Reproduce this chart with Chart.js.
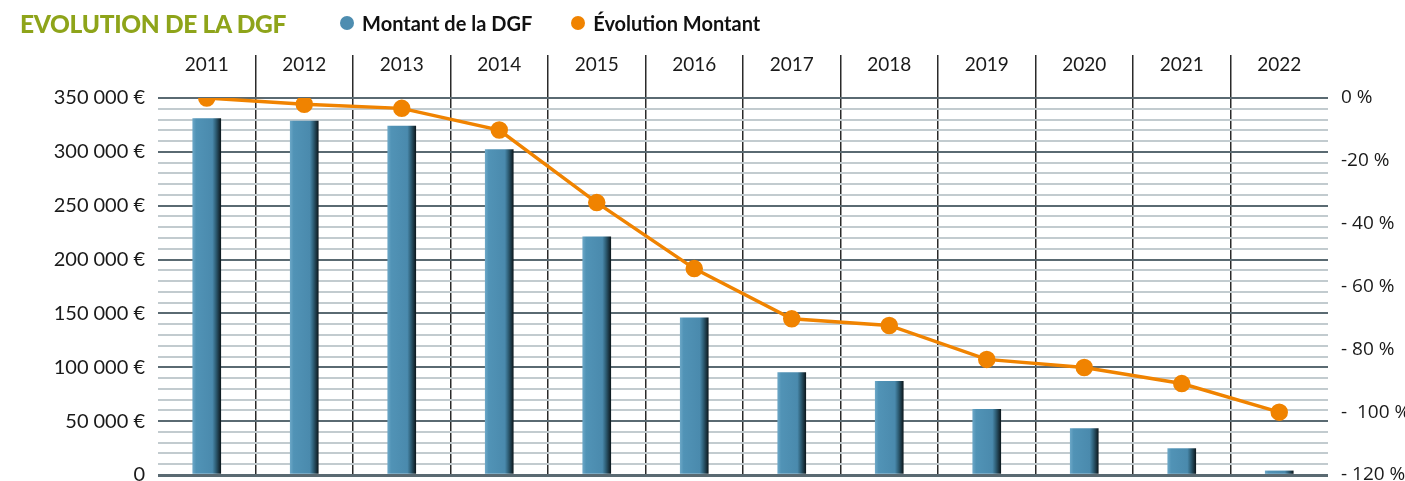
<!DOCTYPE html>
<html>
<head>
<meta charset="utf-8">
<script src="https://cdn.jsdelivr.net/npm/chart.js@4"></script>
<style>
  body { margin: 0; background: #fff; }
  #wrap { position: relative; width: 1405px; height: 481px; overflow: hidden; }
  #canvas { display: block; }
  #head { position: absolute; left: 20px; top: 8px; height: 30px; display: flex; align-items: center; font-family: Lato, sans-serif; }
  #title { color: #8ea41a; font-weight: 900; font-size: 24.5px; letter-spacing: -0.3px; }
  .item { display: flex; align-items: center; font-weight: 700; font-size: 20px; color: #111; }
  .dot { width: 14px; height: 14px; border-radius: 50%; margin-right: 8px; }
</style>
</head>
<body>
<div id="wrap">
  <canvas id="canvas" width="1405" height="500"></canvas>
  <div id="head">
    <span id="title">EVOLUTION DE LA DGF</span>
    <span class="item" style="margin-left:54px"><span class="dot" style="background:#4e8db0"></span>Montant de la DGF</span>
    <span class="item" style="margin-left:39px"><span class="dot" style="background:#f08300"></span>Évolution Montant</span>
  </div>
</div>
<script>
// annees
var years = ['2011','2012','2013','2014','2015','2016','2017','2018','2019','2020','2021','2022'];
// montant de la DGF en euros
var montants = [331000, 328500, 324000, 302000, 221000, 146000, 95000, 87000, 61000, 43000, 24500, 3800];
// evolution du montant en %
var evolution = [0, -2.0, -3.3, -10.2, -33.3, -54.3, -70.3, -72.4, -83.2, -85.8, -90.9, -100];
// libelles des axes
var montantLabels = ['0', '50\u202f000 €', '100\u202f000 €', '150\u202f000 €', '200\u202f000 €', '250\u202f000 €', '300\u202f000 €', '350\u202f000 €'];
var evolutionLabels = ['- 120 %', '-  100 %', '- 80 %', '- 60 %', '- 40 %', '-20 %', '0 %'];

var BAR_W = 28;

// degrade horizontal pour l'effet 3D des barres
function barGradient(context) {
    var chart = context.chart;
    var xScale = chart.scales.x;
    if (!xScale || context.dataIndex === undefined) return '#4e8db0';
    var cx = xScale.getPixelForValue(context.dataIndex);
    if (!isFinite(cx)) return '#4e8db0';
    var g = chart.ctx.createLinearGradient(cx - BAR_W / 2, 0, cx + BAR_W / 2, 0);
    g.addColorStop(0, '#6aa6c6');
    g.addColorStop(0.12, '#5193b6');
    g.addColorStop(0.7, '#4a8aad');
    g.addColorStop(0.82, '#2f6078');
    g.addColorStop(1, '#0e1a20');
    return g;
}

var ctx = document.getElementById('canvas').getContext('2d');
var myChart = new Chart(ctx, {
    data: {
        labels: years,
        datasets: [{
            type: 'line',
            label: 'Évolution Montant',
            data: evolution,
            yAxisID: 'yPct',
            borderColor: '#f08300',
            backgroundColor: '#f08300',
            borderWidth: 3.5,
            pointRadius: 7,
            pointHoverRadius: 7,
            tension: 0,
            order: 0
        }, {
            type: 'bar',
            label: 'Montant de la DGF',
            data: montants,
            yAxisID: 'y',
            backgroundColor: barGradient,
            barThickness: BAR_W,
            borderWidth: 0,
            order: 1
        }]
    },
    options: {
        responsive: false,
        animation: false,
        layout: { padding: 0 },
        plugins: {
            legend: { display: false },
            tooltip: { enabled: false }
        },
        scales: {
            x: {
                position: 'top',
                offset: true,
                border: { display: false },
                grid: {
                    offset: true,
                    tickLength: 43,
                    lineWidth: 1.5,
                    color: function(c) {
                        return (c.index === 0 || c.index === undefined) ? 'rgba(0,0,0,0)' : '#2a2a2a';
                    }
                },
                ticks: {
                    padding: -21,
                    color: '#1a1a1a',
                    font: { family: 'Lato', size: 19 }
                },
                afterFit: function(scale) { scale.height = 98; }
            },
            y: {
                position: 'left',
                min: 0,
                max: 350000,
                border: { display: false },
                grid: {
                    drawTicks: false,
                    lineWidth: function(c) { return c.tick && c.tick.value === 0 ? 3 : 2; },
                    color: function(c) {
                        return c.tick && c.tick.value % 50000 === 0 ? '#5a6a72' : '#c2cbcf';
                    }
                },
                ticks: {
                    stepSize: 10000,
                    autoSkip: false,
                    padding: 13,
                    color: '#1a1a1a',
                    font: { family: 'Lato', size: 20 },
                    callback: function(value) {
                        return value % 50000 === 0 ? montantLabels[value / 50000] : '';
                    }
                },
                afterFit: function(scale) { scale.width = 158; }
            },
            yPct: {
                position: 'right',
                min: -120,
                max: 0,
                border: { display: false },
                grid: { drawOnChartArea: false, drawTicks: false },
                ticks: {
                    stepSize: 20,
                    padding: 13,
                    color: '#1a1a1a',
                    font: { family: 'Open Sans', size: 19 },
                    callback: function(value) {
                        return evolutionLabels[(value + 120) / 20];
                    }
                },
                afterFit: function(scale) { scale.width = 77; }
            }
        }
    }
});
</script>
</body>
</html>
